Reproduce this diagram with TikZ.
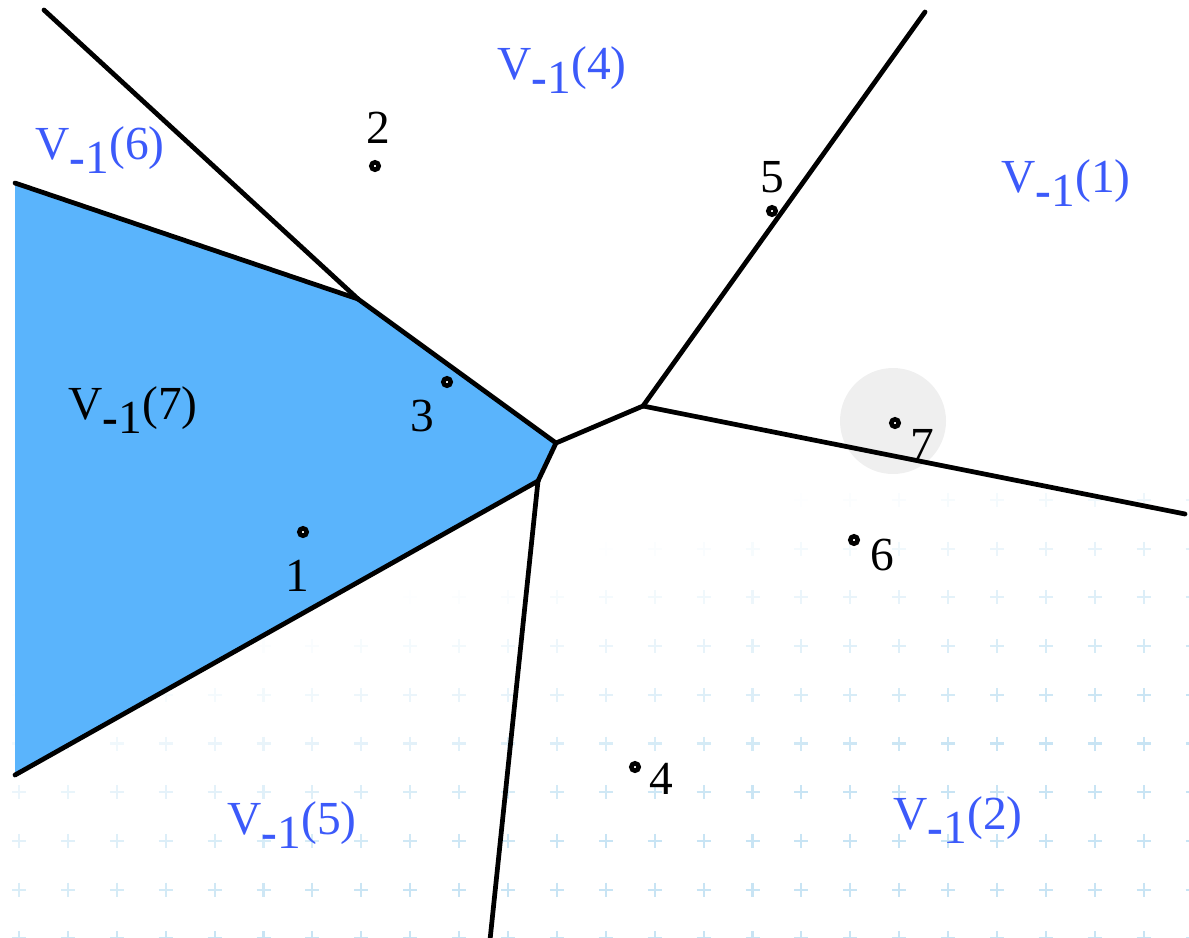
\documentclass[tikz,border=0pt]{standalone}
\usepackage{fontspec}
\setmainfont{Liberation Serif}
\usepackage{tikz}
\usetikzlibrary{positioning,calc}

\definecolor{cellblue}{RGB}{90,180,252}
\definecolor{labblue}{RGB}{60,90,250}
\definecolor{crossblue}{RGB}{110,185,225}
\definecolor{hlgray}{RGB}{239,239,239}

\newcommand{\vcell}[1]{V\raisebox{-0.3em}{\textbf{-}1}(#1)}

\begin{document}
\begin{tikzpicture}[
    x=0.02cm, y=-0.02cm,
    every node/.style={font=\fontsize{27}{32}\selectfont},
    edge/.style={line width=2.7pt, line cap=round, line join=round},
    site/.style={draw, circle, fill=white, line width=2.6pt, minimum size=4.2pt, inner sep=0pt},
    num/.style={inner sep=0pt},
    vlab/.style={text=labblue, inner sep=0pt},
    crossmark/.style={draw=crossblue, line width=1.2pt},
]
  \useasboundingbox (0,0) rectangle (1189,937);
  \clip (0,0) rectangle (1189,937);

  % faint cross pattern (bottom right)
  \foreach \i in {0,...,24} {
    \foreach \j in {0,...,9} {
      \pgfmathsetmacro{\cx}{19+48.9*\i}
      \pgfmathsetmacro{\cy}{500+48.7*\j}
      \pgfmathsetmacro{\op}{0.38*max(0,min(1,(\cy-480)/300+(\cx-600)/1200-0.2))}
      \draw[crossmark, opacity=\op] (\cx-7,\cy) -- (\cx+7,\cy) (\cx,\cy-7) -- (\cx,\cy+7);
    }
  }

  % Voronoi vertices and far ends
  \coordinate (va) at (358,299);
  \coordinate (vb) at (556,443);
  \coordinate (vc) at (538,481);
  \coordinate (vd) at (643,406);
  \coordinate (e1) at (15,183);
  \coordinate (e2) at (44,10);
  \coordinate (e3) at (15,775);
  \coordinate (e4) at (490,940);
  \coordinate (e5) at (925,12);
  \coordinate (e6) at (1185,514);

  % cell of site 7
  \fill[cellblue] (e1) -- (va) -- (vb) -- (vc) -- (e3) -- cycle;

  % highlight round site 7
  \fill[hlgray] (893,421) circle (53);

  % edges
  \draw[edge] (e1) -- (va);
  \draw[edge] (e2) -- (va);
  \draw[edge] (va) -- (vb);
  \draw[edge] (vb) -- (vc);
  \draw[edge] (vc) -- (e3);
  \draw[edge] (vc) -- (e4);
  \draw[edge] (vb) -- (vd);
  \draw[edge] (vd) -- (e5);
  \draw[edge] (vd) -- (e6);

  % sites
  \node[site] (p1) at (303,532) {};
  \node[site] (p2) at (375,166) {};
  \node[site] (p3) at (447,382) {};
  \node[site] (p4) at (635,767) {};
  \node[site] (p5) at (772,211) {};
  \node[site] (p6) at (854,540) {};
  \node[site] (p7) at (895,423) {};
  \node[num] (n1) at (297,576) {1};
  \node[num] (n2) at (378,128) {2};
  \node[num] (n3) at (422,416) {3};
  \node[num] (n4) at (661,779) {4};
  \node[num] (n5) at (772,177) {5};
  \node[num] (n6) at (882,555) {6};
  \node[num] (n7) at (922,445) {7};

  % cell labels
  \node[vlab] (c4) at (562,70) {\vcell{4}};
  \node[vlab] (c6) at (100,150) {\vcell{6}};
  \node[vlab] (c1) at (1066,183) {\vcell{1}};
  \node[inner sep=0pt] (c7) at (133,410) {\vcell{7}};
  \node[vlab] (c5) at (292,825) {\vcell{5}};
  \node[vlab] (c2) at (958,820) {\vcell{2}};
\end{tikzpicture}
\end{document}
